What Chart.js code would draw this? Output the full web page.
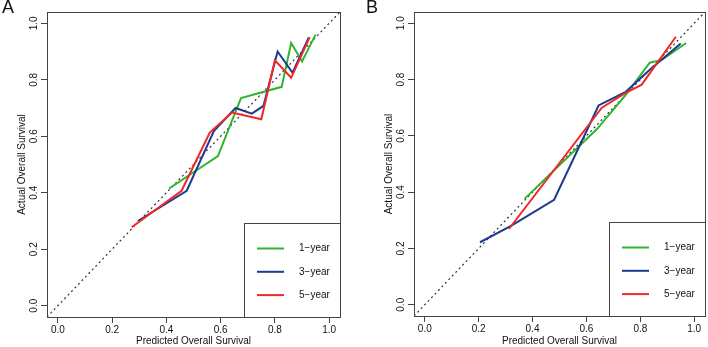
<!DOCTYPE html>
<html>
<head>
<meta charset="utf-8">
<script src="https://cdn.jsdelivr.net/npm/chart.js@4.4.1/dist/chart.umd.min.js"></script>
<style>
    body { margin: 0; background: #fff; font-family: 'Liberation Sans', Arial, sans-serif; }
    .panel { position: absolute; top: 0; width: 354px; height: 347px; }
    .tag { position: absolute; top: -3px; font-size: 18px; color: #111; }
</style>
</head>
<body>
<div class="panel" style="left:0"><canvas id="chartA" width="354" height="347"></canvas></div>
<div class="panel" style="left:354px"><canvas id="chartB" width="354" height="347"></canvas></div>
<div class="tag" style="left:2px">A</div>
<div class="tag" style="left:366px">B</div>
<script>
var seriesLabels = ['1\u2212year', '3\u2212year', '5\u2212year'];
var seriesColors = ['#2fb52f', '#1c3a8e', '#f02828'];
var axisTicks = [0, 0.2, 0.4, 0.6, 0.8, 1.0];
var diagonal = [-0.04, 1.04];

// panel A (predicted vs actual)
var predA1 = [0.41, 0.59, 0.675, 0.825, 0.86, 0.90, 0.95];
var actA1  = [0.415, 0.53, 0.735, 0.775, 0.93, 0.865, 0.96];
var predA3 = [0.295, 0.475, 0.575, 0.655, 0.715, 0.758, 0.81, 0.865, 0.925];
var actA3  = [0.30, 0.407, 0.618, 0.70, 0.68, 0.708, 0.90, 0.825, 0.95];
var predA5 = [0.272, 0.456, 0.56, 0.642, 0.75, 0.80, 0.86, 0.928];
var actA5  = [0.278, 0.407, 0.613, 0.684, 0.66, 0.869, 0.807, 0.95];

// panel B
var predB1 = [0.37, 0.64, 0.745, 0.835, 0.88, 0.97];
var actB1  = [0.376, 0.625, 0.745, 0.86, 0.87, 0.93];
var predB3 = [0.205, 0.32, 0.48, 0.645, 0.744, 0.835, 0.95];
var actB3  = [0.222, 0.28, 0.373, 0.708, 0.755, 0.835, 0.928];
var predB5 = [0.313, 0.657, 0.744, 0.805, 0.932];
var actB5  = [0.27, 0.70, 0.752, 0.782, 0.952];

var fontFamily = "'Liberation Sans', Arial, sans-serif";

function pairs(xs, ys) {
    return xs.map(function(x, i) { return { x: x, y: ys[i] }; });
}

// box round the plot + bottom-right legend, R style
var calBox = {
    id: 'calBox',
    afterDatasetsDraw: function(chart, args, opts) {
        var a = chart.chartArea;
        var ctx = chart.ctx;
        ctx.save();
        ctx.strokeStyle = '#444';
        ctx.lineWidth = 1;
        ctx.strokeRect(Math.round(a.left) + 0.5, Math.round(a.top) + 0.5,
            Math.round(a.right - a.left), Math.round(a.bottom - a.top));

        var lx = Math.round(a.right - opts.width);
        var ly = Math.round(a.bottom - opts.height);
        ctx.strokeRect(lx + 0.5, ly + 0.5, Math.round(a.right) - lx, Math.round(a.bottom) - ly);

        ctx.font = '10px ' + fontFamily;
        ctx.textBaseline = 'middle';
        ctx.textAlign = 'left';
        seriesLabels.forEach(function(label, i) {
            var y = ly + 25.5 + i * 23.3;
            ctx.strokeStyle = seriesColors[i];
            ctx.lineWidth = 2;
            ctx.beginPath();
            ctx.moveTo(lx + 13, y);
            ctx.lineTo(lx + 40, y);
            ctx.stroke();
            ctx.fillStyle = '#111';
            ctx.fillText(label, lx + 55, y);
        });
        ctx.restore();
    }
};

function makeChart(id, series, layout) {
    var datasets = [{
        label: 'ideal',
        data: pairs(diagonal, diagonal),
        borderColor: '#333',
        borderWidth: 1.2,
        borderDash: [2, 3],
        pointRadius: 0,
        showLine: true,
        order: 4
    }];
    series.forEach(function(s, i) {
        datasets.push({
            label: seriesLabels[i],
            data: pairs(s[0], s[1]),
            borderColor: seriesColors[i],
            borderWidth: 2,
            pointRadius: 0,
            showLine: true,
            tension: 0,
            order: 3 - i
        });
    });

    return new Chart(document.getElementById(id).getContext('2d'), {
        type: 'scatter',
        data: { datasets: datasets },
        options: {
            responsive: false,
            animation: false,
            layout: { padding: layout.padding },
            plugins: {
                legend: { display: false },
                tooltip: { enabled: false },
                calBox: { width: 96, height: 94 }
            },
            scales: {
                x: {
                    type: 'linear',
                    min: -0.04,
                    max: 1.04,
                    afterBuildTicks: function(s) { s.ticks = axisTicks.map(function(v) { return { value: v }; }); },
                    afterFit: function(s) { s.height = layout.xHeight; },
                    grid: { drawOnChartArea: false, drawTicks: true, tickLength: 6, color: '#444' },
                    border: { display: false },
                    ticks: {
                        color: '#111', padding: 1, autoSkip: false, maxRotation: 0,
                        font: { size: 10, family: fontFamily },
                        callback: function(v) { return v.toFixed(1); }
                    },
                    title: {
                        display: true, text: 'Predicted Overall Survival', color: '#111',
                        font: { size: 10, family: fontFamily }, padding: { top: 0, bottom: 0 }
                    }
                },
                y: {
                    type: 'linear',
                    min: -0.04,
                    max: 1.04,
                    afterBuildTicks: function(s) { s.ticks = axisTicks.map(function(v) { return { value: v }; }); },
                    afterFit: function(s) { s.width = layout.yWidth; },
                    grid: { drawOnChartArea: false, drawTicks: true, tickLength: 6, color: '#444' },
                    border: { display: false },
                    ticks: {
                        color: '#111', padding: 0, autoSkip: false,
                        minRotation: 90, maxRotation: 90, crossAlign: 'center',
                        font: { size: 10, family: fontFamily },
                        callback: function(v) { return v.toFixed(1); }
                    },
                    title: {
                        display: true, text: 'Actual Overall Survival', color: '#111',
                        font: { size: 10, family: fontFamily }, padding: { top: layout.yTitlePad, bottom: 0 }
                    }
                }
            }
        },
        plugins: [calBox]
    });
}

makeChart('chartA', [[predA1, actA1], [predA3, actA3], [predA5, actA5]], {
    padding: { left: 0, right: 14, top: 12, bottom: 0 },
    yWidth: 47, xHeight: 30, yTitlePad: 16
});
makeChart('chartB', [[predB1, actB1], [predB3, actB3], [predB5, actB5]], {
    padding: { left: 0, right: 3, top: 12, bottom: 0 },
    yWidth: 60, xHeight: 31, yTitlePad: 29
});
</script>
</body>
</html>
